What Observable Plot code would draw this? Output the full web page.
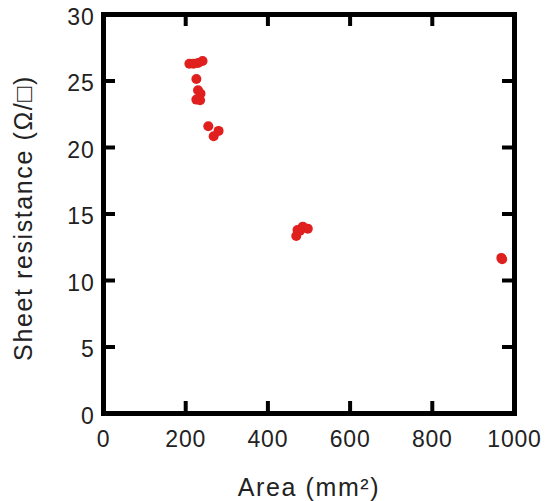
<!DOCTYPE html>
<html><head><meta charset="utf-8">
<script src="https://cdn.jsdelivr.net/npm/d3@7"></script>
<script src="https://cdn.jsdelivr.net/npm/@observablehq/plot@0.6"></script>
<style>
body{margin:0;background:#fff}
g[aria-description="title"] text {letter-spacing: 1.6px}
g[aria-description="ticklabel"] text {letter-spacing: 0.8px}
</style>
</head><body><div id="chart"></div>
<script>
const area = [209, 219, 230, 241, 226, 230, 236, 226, 235, 255, 268, 280, 469, 472, 485, 497, 478, 968, 970];
const resistance = [26.3, 26.3, 26.35, 26.5, 25.15, 24.3, 24.05, 23.6, 23.55, 21.6, 20.85, 21.25, 13.35, 13.8, 14.05, 13.9, 13.75, 11.7, 11.6];
const xTicks = [0, 200, 400, 600, 800, 1000];
const yTicks = [0, 5, 10, 15, 20, 25, 30];
const xLabel = "Area (mm²)";
const yLabel = "Sheet resistance (Ω/□)";
const xDomain = [0, 1000];
const yDomain = [0, 30];

const data = area.map((a, i) => ({area: a, r: resistance[i]}));
const font = "'Liberation Sans', Arial, Helvetica, sans-serif";
const W = 548, H = 501, mL = 103, mR = 34, mT = 14, mB = 88, tickLen = 12;
const frameW = W - mL - mR, frameH = H - mT - mB;

const chart = Plot.plot({
  width: W, height: H, marginLeft: mL, marginRight: mR, marginTop: mT, marginBottom: mB,
  x: {domain: xDomain, axis: null},
  y: {domain: yDomain, axis: null},
  marks: [
    Plot.dot(data, {x: "area", y: "r", r: 5, fill: "#e0201e"}),
    // tick labels
    Plot.text(xTicks, {x: d => d, text: d => String(d), frameAnchor: "bottom", lineAnchor: "top", dy: 17,
      fontSize: 23, fontFamily: font, fill: "#222", ariaDescription: "ticklabel"}),
    Plot.text(yTicks, {y: d => d, text: d => String(d), frameAnchor: "left", textAnchor: "end", dx: -9, dy: 3,
      fontSize: 23, fontFamily: font, fill: "#222", ariaDescription: "ticklabel"}),
    // axis titles
    Plot.text([xLabel], {text: d => d, frameAnchor: "bottom", lineAnchor: "bottom", dy: 82,
      fontSize: 25, fontFamily: font, fill: "#222", ariaDescription: "title"}),
    Plot.text([yLabel], {text: d => d, frameAnchor: "left", textAnchor: "middle", lineAnchor: "top", rotate: -90, dx: -89, dy: 4,
      fontSize: 25, fontFamily: font, fill: "#222", ariaDescription: "title"}),
    // inward ticks on all four sides (drawn last)
    Plot.tickX(xTicks, {x: d => d, insetTop: frameH - tickLen, stroke: "black", strokeWidth: 4}),
    Plot.tickX(xTicks, {x: d => d, insetBottom: frameH - tickLen, stroke: "black", strokeWidth: 4}),
    Plot.tickY(yTicks, {y: d => d, insetRight: frameW - tickLen, stroke: "black", strokeWidth: 4}),
    Plot.tickY(yTicks, {y: d => d, insetLeft: frameW - tickLen, stroke: "black", strokeWidth: 4}),
    Plot.frame({stroke: "black", strokeWidth: 5})
  ]
});
document.getElementById("chart").appendChild(chart);
</script>
</body></html>
